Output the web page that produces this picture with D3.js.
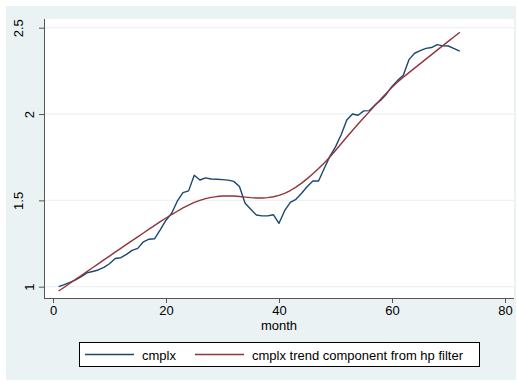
<!DOCTYPE html>
<html>
<head>
<meta charset="utf-8">
<script src="https://cdn.jsdelivr.net/npm/d3@7"></script>
<style>
  body { margin: 0; background: #fff; }
  text { font-family: "Liberation Sans", Arial, sans-serif; fill: #000; }
</style>
</head>
<body>
<svg id="chart" width="517" height="383"></svg>
<script>
// month index
const months = [1,2,3,4,5,6,7,8,9,10,11,12,13,14,15,16,17,18,19,20,21,22,23,24,
  25,26,27,28,29,30,31,32,33,34,35,36,37,38,39,40,41,42,43,44,45,46,47,48,
  49,50,51,52,53,54,55,56,57,58,59,60,61,62,63,64,65,66,67,68,69,70,71,72];

// cmplx
const cmplx = [1.000,1.012,1.025,1.040,1.058,1.080,1.088,1.097,1.112,1.133,1.163,1.168,
  1.187,1.210,1.222,1.260,1.275,1.278,1.330,1.385,1.425,1.495,1.545,1.555,
  1.645,1.618,1.630,1.624,1.622,1.620,1.617,1.610,1.580,1.483,1.448,1.415,
  1.410,1.410,1.417,1.367,1.440,1.488,1.506,1.541,1.580,1.612,1.612,1.685,
  1.755,1.810,1.880,1.966,2.000,1.993,2.018,2.020,2.053,2.080,2.115,2.160,
  2.195,2.225,2.315,2.352,2.367,2.380,2.385,2.402,2.395,2.394,2.379,2.364];

// hp filter trend
const trend = [0.975,0.997,1.020,1.042,1.065,1.087,1.110,1.132,1.155,1.177,1.200,1.222,
  1.245,1.267,1.289,1.311,1.333,1.355,1.377,1.398,1.418,1.437,1.456,1.473,
  1.488,1.500,1.510,1.517,1.522,1.525,1.526,1.525,1.522,1.519,1.516,1.514,
  1.514,1.516,1.521,1.529,1.541,1.557,1.577,1.600,1.626,1.654,1.684,1.716,
  1.751,1.789,1.828,1.867,1.905,1.942,1.978,2.014,2.050,2.086,2.121,2.155,
  2.185,2.213,2.240,2.266,2.292,2.318,2.344,2.370,2.396,2.422,2.448,2.474];

const xTicks = [0, 20, 40, 60, 80];
const yTicks = [1, 1.5, 2, 2.5];
const xTitle = "month";
const legendLabels = ["cmplx", "cmplx trend component from hp filter"];

const navy = "#1a476f", maroon = "#90353b", bg = "#eaf2f3", axisCol = "#555";

const svg = d3.select("#chart");

// graph region + plot region
svg.append("rect").attr("x", 6).attr("y", 6).attr("width", 510).attr("height", 374).attr("fill", bg);
svg.append("rect").attr("x", 44).attr("y", 19).attr("width", 470).attr("height", 279).attr("fill", "#fff");

const x = d3.scaleLinear().domain([0, 80]).range([53, 505]);
const y = d3.scaleLinear().domain([1, 2.5]).range([286.7, 27.7]);

// grid lines
svg.append("g").selectAll("line")
  .data(yTicks)
  .enter()
  .append("line")
  .attr("x1", 45).attr("x2", 514)
  .attr("y1", d => y(d)).attr("y2", d => y(d))
  .attr("stroke", bg).attr("stroke-width", 1.2);

// x axis
const xAxis = svg.append("g")
  .attr("transform", "translate(0,298)")
  .call(d3.axisBottom(x).tickValues(xTicks).tickSize(5).tickPadding(3).tickSizeOuter(0));
xAxis.select(".domain").attr("d", "M44,0.5H514").attr("stroke", axisCol);
xAxis.selectAll(".tick line").attr("stroke", axisCol);
xAxis.selectAll("text").style("font-size", "13px").attr("fill", "#000")
  .style("font-family", "'Liberation Sans', Arial, sans-serif");

// y axis
const yAxis = svg.append("g")
  .attr("transform", "translate(44,0)")
  .call(d3.axisLeft(y).tickValues(yTicks).tickFormat(d3.format("")).tickSize(5).tickSizeOuter(0));
yAxis.select(".domain").attr("d", "M0.5,19V298").attr("stroke", axisCol);
yAxis.selectAll(".tick line").attr("stroke", axisCol);
yAxis.selectAll(".tick text")
  .style("font-size", "13px")
  .style("font-family", "'Liberation Sans', Arial, sans-serif")
  .attr("fill", "#000")
  .attr("text-anchor", "middle")
  .attr("dy", null)
  .attr("dominant-baseline", "central")
  .each(function() {
    const w = this.getComputedTextLength();
    const cx = 37 - w - 44;
    d3.select(this).attr("x", 0).attr("y", 0)
      .attr("transform", "translate(" + cx + ",0) rotate(-90)");
  });

// x title
svg.append("text")
  .attr("x", 279).attr("y", 330)
  .attr("text-anchor", "middle")
  .style("font-size", "13px")
  .text(xTitle);

// series
const line = d3.line()
  .x((d, i) => x(months[i]))
  .y(d => y(d));

svg.append("path")
  .datum(cmplx)
  .attr("fill", "none")
  .attr("stroke", navy)
  .attr("stroke-width", 1.4)
  .attr("stroke-linejoin", "round")
  .attr("d", line);

svg.append("path")
  .datum(trend)
  .attr("fill", "none")
  .attr("stroke", maroon)
  .attr("stroke-width", 1.4)
  .attr("stroke-linejoin", "round")
  .attr("d", line);

// legend
const legend = svg.append("g");
legend.append("rect")
  .attr("x", 79.5).attr("y", 342.5).attr("width", 400).attr("height", 24)
  .attr("fill", "#fff").attr("stroke", "#000").attr("stroke-width", 1);

const legendX = [85, 195];
const legendCols = [navy, maroon];
legendLabels.forEach((lab, i) => {
  legend.append("line")
    .attr("x1", legendX[i]).attr("x2", legendX[i] + 49)
    .attr("y1", 354.5).attr("y2", 354.5)
    .attr("stroke", legendCols[i]).attr("stroke-width", 1.4);
  legend.append("text")
    .attr("x", legendX[i] + 57).attr("y", 359.5)
    .style("font-size", "13px")
    .text(lab);
});
</script>
</body>
</html>
